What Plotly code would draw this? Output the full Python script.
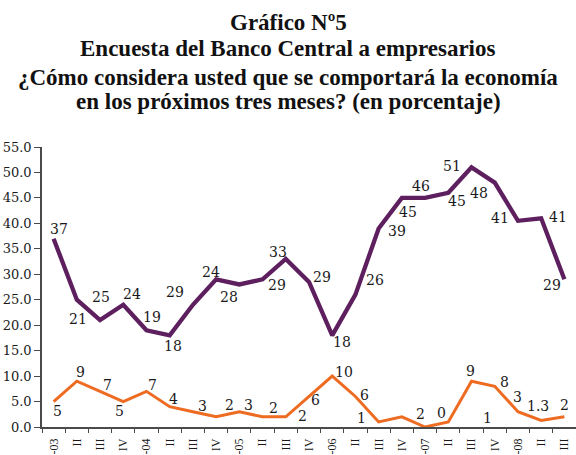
import plotly.graph_objects as go

# ---- data ----
quarters = ["I-03", "II", "III", "IV", "I-04", "II", "III", "IV", "I-05", "II", "III", "IV",
            "I-06", "II", "III", "IV", "I-07", "II", "III", "IV", "I-08", "II", "III"]
mejor = [37, 25, 21, 24, 19, 18, 24, 29, 28, 29, 33, 28.5, 18, 26, 39, 45, 45, 46, 51, 48, 40.5, 41, 29]
mejor_labels = ["37", "21", "25", "24", "19", "18", "29", "24", "28", "29", "33", "29", "18",
                "26", "39", "45", "46", "45", "51", "48", "41", "41", "29"]
peor = [5, 9, 7, 5, 7, 4, 3, 2, 3, 2, 2, 6, 10, 6, 1, 2, 0, 1, 9, 8, 3, 1.3, 2]
peor_labels = ["5", "9", "7", "5", "7", "4", "3", "2", "3", "2", "2", "6", "10", "6", "1",
               "2", "0", "1", "9", "8", "3", "1.3", "2"]
title_lines = ["Gráfico Nº5",
               "Encuesta del Banco Central a empresarios",
               "¿Cómo considera usted que se comportará la economía",
               "en los próximos tres meses? (en porcentaje)"]

# ---- label placement (pixel offsets from each point: dx right, dy down) ----
mejor_off = [(5, -10), (1, 19), (1, -23), (9, -11), (6, -13), (3, 11), (-18, -13), (-5, -7),
             (-10, 13), (14, 6), (-8, -7), (13, -5), (10, 7), (20, -15), (18, 3), (6, 14),
             (-4, -12), (9, 8), (-20, -1), (-16, 10), (-18, -3), (17, -1), (-12, 6)]
peor_off = [(4, 9), (4, -9), (7, -6), (-4, 9), (6, -6), (4, -8), (10, -6), (13, -12), (9, -7),
            (11, -9), (17, -1), (6, 4), (12, -4), (9, -1), (-17, -4), (19, -3), (16, -14),
            (39, -4), (-1, -10), (10, -4), (0, -15), (-3, -14), (0, -12)]

PURPLE = "#5e1f5f"
ORANGE = "#ee6b22"
AXIS = "#4a4a4a"
LABEL_FONT = dict(family="DejaVu Serif", size=14, color="#1a1a1a")

W, H = 576, 455
ML, MR, MT, MB = 42, 0, 147, 28
plot_h = H - MT - MB
plot_w = W - ML - MR

xs = list(range(len(quarters)))

fig = go.Figure()
fig.add_trace(go.Scatter(x=xs, y=mejor, mode="lines", name="Mejor",
                         line=dict(color=PURPLE, width=4.3), showlegend=False))
fig.add_trace(go.Scatter(x=xs, y=peor, mode="lines", name="Peor",
                         line=dict(color=ORANGE, width=3), showlegend=False))
# invisible trace carrying the boundary tick-mark axis
fig.add_trace(go.Scatter(x=[xs[0]], y=[0], mode="markers", xaxis="x2",
                         marker=dict(opacity=0), showlegend=False, hoverinfo="skip"))

annotations = []
for i, (v, t, (dx, dy)) in enumerate(zip(mejor, mejor_labels, mejor_off)):
    annotations.append(dict(x=xs[i], y=v, xref="x", yref="y", text=t, showarrow=False,
                            xshift=dx, yshift=-dy, font=LABEL_FONT))
for i, (v, t, (dx, dy)) in enumerate(zip(peor, peor_labels, peor_off)):
    annotations.append(dict(x=xs[i], y=v, xref="x", yref="y", text=t, showarrow=False,
                            xshift=dx, yshift=-dy, font=LABEL_FONT))

# title lines, centred on the page (box centres in page pixels from top)
title_centres = [22, 49, 77, 102]
for txt, cy in zip(title_lines, title_centres):
    annotations.append(dict(
        text=txt, xref="paper", yref="paper",
        x=(W / 2 - ML) / plot_w, y=(H - MB - cy) / plot_h,
        xanchor="center", yanchor="middle", showarrow=False,
        font=dict(family="Liberation Serif", size=23, color="#111111", weight="bold"),
    ))

n = len(quarters)
fig.update_layout(
    width=W, height=H,
    margin=dict(l=ML, r=MR, t=MT, b=MB, autoexpand=False),
    paper_bgcolor="white", plot_bgcolor="white",
    xaxis=dict(
        range=[-0.5, n - 0.5], tickmode="array", tickvals=xs, ticktext=quarters,
        tickangle=-90, ticks="outside", ticklen=5, tickcolor="rgba(0,0,0,0)",
        showline=True, linecolor=AXIS, linewidth=1.5, showgrid=False, zeroline=False,
        automargin=False,
        tickfont=dict(family="Liberation Serif", size=12, color="#1a1a1a"),
    ),
    xaxis2=dict(
        overlaying="x", anchor="y", side="bottom", range=[-0.5, n - 0.5],
        tickmode="array", tickvals=[i - 0.5 for i in range(n + 1)],
        ticks="outside", ticklen=5, tickwidth=1.2, tickcolor=AXIS, automargin=False,
        showticklabels=False, showline=False, showgrid=False, zeroline=False,
    ),
    yaxis=dict(
        range=[0, 55], dtick=5, tickformat=".1f", ticks="outside", ticklen=6,
        tickwidth=1.2, tickcolor=AXIS, showline=True, linecolor=AXIS, linewidth=1.5,
        showgrid=False, zeroline=False, automargin=False,
        tickfont=dict(family="DejaVu Serif", size=13, color="#1a1a1a"),
    ),
    annotations=annotations,
)

fig.write_html("out.html",
               config={"displayModeBar": False},
               post_script="document.body.style.margin='0';"
                           "document.body.style.overflow='hidden';")
